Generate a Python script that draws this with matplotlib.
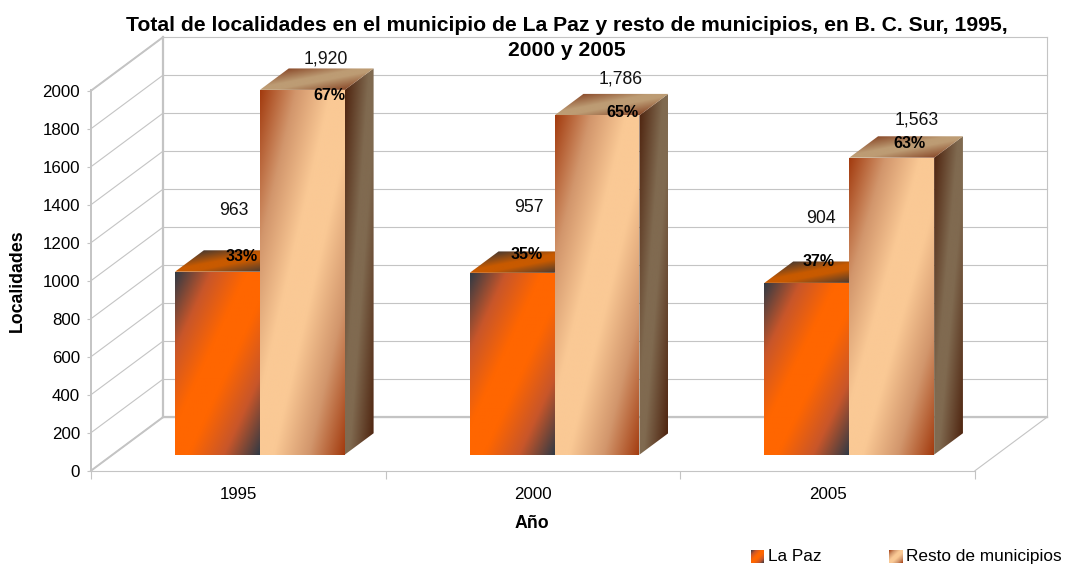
import matplotlib
matplotlib.use('Agg')
import matplotlib.pyplot as plt
import numpy as np
from matplotlib.patches import Polygon
from matplotlib.transforms import Affine2D

plt.rcParams['font.family'] = ['Liberation Sans', 'DejaVu Sans']

years = ['1995', '2000', '2005']
la_paz = [963, 957, 904]
resto = [1920, 1786, 1563]
pct_la_paz = ['33%', '35%', '37%']
pct_resto = ['67%', '65%', '63%']
y_ticks = list(range(0, 2001, 200))

# label offsets in pixels from the bar top corners
val_off_lp = [(59, 61), (59, 65), (57, 64)]
val_off_re = [(66, 31), (66, 36), (67, 38)]
pct_off_lp = [(-18, 15), (-28, 18), (-31, 21)]
pct_off_re = [(-15, -6), (-17, 3), (-25, 14)]

W, H = 1065, 565
GRID = '#c4c4c4'
DX, DY = 72 / 294.67, 53.5 / 0.19  # depth of the 3d box in data units
F0, F1 = 0.30, 0.70                # bar front and back, as part of the depth
BAR_W = 0.288


def rgb(h):
    return np.array(matplotlib.colors.to_rgb(h))


def grad(mid, end, knee=None, flat=.08, n=80):
    u, v = np.meshgrid(np.linspace(0, 1, n), np.linspace(0, 1, n))
    t = (u + v) / 2
    w = np.clip((np.abs(t - .5) - flat) / (.5 - flat), 0, 1)
    knee = rgb(knee) if knee else (rgb(mid) + rgb(end)) / 2
    stops = np.array([rgb(mid), knee, rgb(end)])
    return np.dstack([np.interp(w, [0, .5, 1], stops[:, c]) for c in range(3)])


def face(ax, g, o, ex, ey, z):
    # unit square -> parallelogram in data coordinates
    tr = Affine2D.from_values(ex[0], ex[1], ey[0], ey[1], o[0], o[1])
    im = ax.imshow(g, extent=(0, 1, 0, 1), aspect='auto', interpolation='bilinear',
                   transform=tr + ax.transData, zorder=z)
    corners = [o, (o[0] + ex[0], o[1] + ex[1]),
               (o[0] + ex[0] + ey[0], o[1] + ex[1] + ey[1]), (o[0] + ey[0], o[1] + ey[1])]
    im.set_clip_box(fig.bbox)
    im.set_clip_path(Polygon(corners, transform=ax.transData))


def bar3d(ax, x, val, cols, z):
    x0 = x + F0 * DX
    y0 = F0 * DY
    dx = (F1 - F0) * DX
    dy = (F1 - F0) * DY
    face(ax, grad(*cols['front']), (x0, y0), (BAR_W, 0), (0, val), z)
    face(ax, grad(*cols['side']), (x0 + BAR_W, y0), (dx, dy), (0, val), z)
    face(ax, grad(*cols['top']), (x0, y0 + val), (BAR_W, 0), (dx, dy), z)
    return x0, y0 + val


cols_lp = {'front': ('#ff6600', '#333a44', '#c8562a'), 'side': ('#8a4a10', '#3a2010'),
           'top': ('#c85a00', '#4a3a30')}
cols_re = {'front': ('#fac995', '#a33c10', '#d2966c'), 'side': ('#806a50', '#4f2510'),
           'top': ('#bd9c74', '#8a4a2a')}

fig = plt.figure(figsize=(W / 100, H / 100), dpi=100)
ax = fig.add_axes([91 / W, 1 - 470.7 / H, 884 / W, 380.7 / H])
ax.set_facecolor('none')

# back wall and side wall
for t in y_ticks:
    ax.plot([DX, 3 + DX], [t + DY, t + DY], color=GRID, lw=.8, clip_on=False, zorder=1)
    ax.plot([0, DX], [t, t + DY], color=GRID, lw=.8, clip_on=False, zorder=1)
ax.plot([DX, DX], [DY, 2000 + DY], color=GRID, lw=1.6, clip_on=False, zorder=1)
ax.plot([3 + DX, 3 + DX], [DY, 2000 + DY], color=GRID, lw=.8, clip_on=False, zorder=1)
ax.plot([DX, 3 + DX], [DY, DY], color=GRID, lw=1.6, clip_on=False, zorder=1)
ax.plot([0, DX], [0, DY], color=GRID, lw=1.4, clip_on=False, zorder=1)
ax.plot([0, DX], [2000, 2000 + DY], color=GRID, lw=1.4, clip_on=False, zorder=1)
ax.plot([3, 3 + DX], [0, DY], color=GRID, lw=.8, clip_on=False, zorder=1)

for i in range(len(years)):
    z = 3 + i
    x, y = bar3d(ax, i + .5 - BAR_W, la_paz[i], cols_lp, z)
    ax.annotate(f'{la_paz[i]:,}', (x, y), xytext=val_off_lp[i], textcoords='offset pixels',
                ha='center', va='center', fontsize=12.7, zorder=9, color='#111111')
    ax.annotate(pct_la_paz[i], (x + BAR_W, y), xytext=pct_off_lp[i], textcoords='offset pixels',
                ha='center', va='center', fontsize=11.5, fontweight='bold', zorder=9, color='black')
    x, y = bar3d(ax, i + .5, resto[i], cols_re, z + .5)
    ax.annotate(f'{resto[i]:,}', (x, y), xytext=val_off_re[i], textcoords='offset pixels',
                ha='center', va='center', fontsize=12.7, zorder=9, color='#111111')
    ax.annotate(pct_resto[i], (x + BAR_W, y), xytext=pct_off_re[i], textcoords='offset pixels',
                ha='center', va='center', fontsize=11.5, fontweight='bold', zorder=9, color='black')

ax.set_xlim(0, 3)
ax.set_ylim(0, 2000 * 380.7 / 380)
ax.set_yticks(y_ticks)
ax.set_xticks(range(4))
ax.set_xticklabels([])
ax.set_xticks([.5, 1.5, 2.5], labels=years, minor=True)
ax.tick_params(axis='y', length=3, color=GRID, labelsize=12.2, pad=5)
ax.tick_params(axis='x', which='major', length=6, color=GRID, width=.8)
ax.tick_params(axis='x', which='minor', length=0, labelsize=12.2, pad=12)
for s in ['top', 'right']:
    ax.spines[s].set_visible(False)
ax.spines['left'].set_color(GRID)
ax.spines['left'].set_linewidth(1.4)
ax.spines['bottom'].set_color(GRID)
ax.spines['bottom'].set_linewidth(.8)

fig.text(567 / W, 1 - 38 / H, 'Total de localidades en el municipio de La Paz y resto de municipios, en B. C. Sur, 1995,\n2000 y 2005',
         ha='center', va='center', fontsize=15.2, fontweight='bold', linespacing=1.42)
fig.text(17 / W, 1 - 281 / H, 'Localidades', rotation=90, ha='center', va='center', fontsize=12.8, fontweight='bold')
fig.text(532 / W, 1 - 524 / H, 'Año', ha='center', va='center', fontsize=12.8, fontweight='bold')

# legend
for px, cols, name in [(751, cols_lp, 'La Paz'), (889, cols_re, 'Resto de municipios')]:
    lax = fig.add_axes([px / W, 1 - 563 / H, 13 / W, 13 / H])
    lax.imshow(grad(*cols['front']), aspect='auto', interpolation='bilinear')
    lax.axis('off')
    fig.text((px + 17) / W, 1 - 556.5 / H, name, ha='left', va='center', fontsize=12.4)

fig.savefig('out.png', dpi=100)
